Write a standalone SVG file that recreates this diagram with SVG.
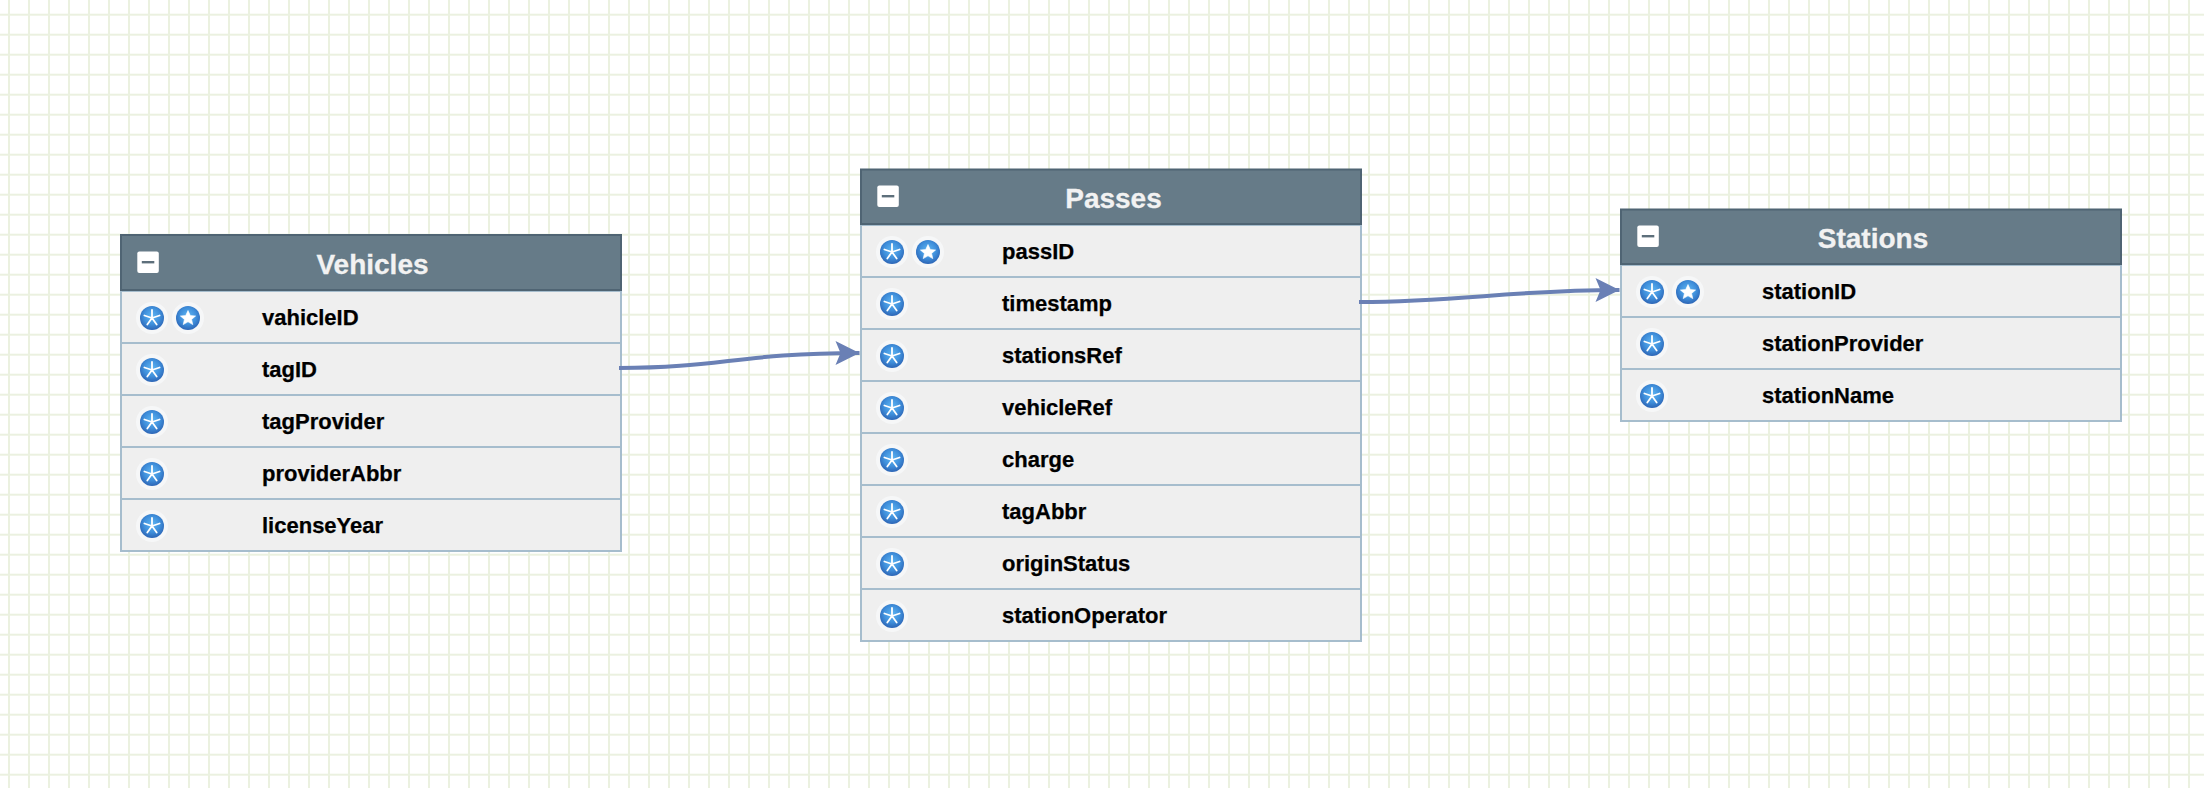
<svg xmlns="http://www.w3.org/2000/svg" xmlns:xlink="http://www.w3.org/1999/xlink" width="2204" height="788" viewBox="0 0 2204 788">
<style>
.hd{fill:#667b88;stroke:#4f6473;stroke-width:2}
.row{fill:#efefef;stroke:#a6bdcd;stroke-width:2}
.title{font:bold 28px "Liberation Sans",Arial,sans-serif;fill:#f2f2f2;stroke:#f2f2f2;stroke-width:.3;text-anchor:middle}
.lbl{font:bold 22px "Liberation Sans",Arial,sans-serif;fill:#000;stroke:#000;stroke-width:.25}
.conn{fill:none;stroke:#6a80b5;stroke-width:4}
</style>
<defs>
<pattern id="grid" width="20" height="20" patternUnits="userSpaceOnUse" x="-1" y="4.7">
<rect width="20" height="20" fill="#fff"/>
<path d="M10 0V20M0 10H20" stroke="#ebf1e0" stroke-width="2" fill="none"/>
</pattern>
<radialGradient id="blue" cx=".5" cy=".42" r=".62">
<stop offset="0" stop-color="#5fb6f2"/><stop offset=".55" stop-color="#3f8fdb"/><stop offset="1" stop-color="#2a5fb0"/>
</radialGradient>
<g id="ast">
<circle r="16" fill="#f6f7f8"/><circle r="12" fill="url(#blue)"/>
<path d="M0 0V-8M0 0L7.6-2.5M0 0L-7.6-2.5M0 0L4.7 6.5M0 0L-4.7 6.5" stroke="#fff" stroke-width="1.8" stroke-linecap="round" fill="none"/>
</g>
<g id="star">
<circle r="16" fill="#f6f7f8"/><circle r="12" fill="url(#blue)"/>
<polygon points="0,-7.5 2.3,-2.4 7.6,-2 3.6,1.4 4.8,6.6 0,3.8 -4.8,6.6 -3.6,1.4 -7.6,-2 -2.3,-2.4" fill="#fff" stroke="#fff" stroke-width=".6" stroke-linejoin="round"/>
</g>
<g id="minus"><rect width="21.5" height="21.5" rx="2" fill="#fff"/><rect x="4.5" y="9.5" width="12.5" height="2.4" fill="#5d6f7b"/></g>
<marker id="arr" markerUnits="userSpaceOnUse" markerWidth="26" markerHeight="28" refX="25" refY="13" orient="auto">
<polygon points="1,1 25,13 1,25 6,13" fill="#6a80b5"/>
</marker>
</defs>
<rect width="2204" height="788" fill="url(#grid)"/>
<g id="vehicles">
<rect class="row" x="121" y="291" width="500" height="52"/>
<rect class="row" x="121" y="343" width="500" height="52"/>
<rect class="row" x="121" y="395" width="500" height="52"/>
<rect class="row" x="121" y="447" width="500" height="52"/>
<rect class="row" x="121" y="499" width="500" height="52"/>
<rect class="hd" x="121" y="235" width="500" height="55"/>
<use xlink:href="#minus" x="137.3" y="251.5"/>
<text class="title" x="372.5" y="274">Vehicles</text>
<use xlink:href="#ast" x="152" y="318"/><use xlink:href="#star" x="188" y="318"/>
<use xlink:href="#ast" x="152" y="370"/><use xlink:href="#ast" x="152" y="422"/><use xlink:href="#ast" x="152" y="474"/><use xlink:href="#ast" x="152" y="526"/>
<text class="lbl" x="262" y="325">vahicleID</text>
<text class="lbl" x="262" y="377">tagID</text>
<text class="lbl" x="262" y="429">tagProvider</text>
<text class="lbl" x="262" y="481">providerAbbr</text>
<text class="lbl" x="262" y="533">licenseYear</text>
</g>
<g id="passes">
<rect class="row" x="861" y="225" width="500" height="52"/>
<rect class="row" x="861" y="277" width="500" height="52"/>
<rect class="row" x="861" y="329" width="500" height="52"/>
<rect class="row" x="861" y="381" width="500" height="52"/>
<rect class="row" x="861" y="433" width="500" height="52"/>
<rect class="row" x="861" y="485" width="500" height="52"/>
<rect class="row" x="861" y="537" width="500" height="52"/>
<rect class="row" x="861" y="589" width="500" height="52"/>
<rect class="hd" x="861" y="169.5" width="500" height="54.5"/>
<use xlink:href="#minus" x="877.3" y="185.5"/>
<text class="title" x="1113.5" y="208">Passes</text>
<use xlink:href="#ast" x="892" y="252"/><use xlink:href="#star" x="928" y="252"/>
<use xlink:href="#ast" x="892" y="304"/><use xlink:href="#ast" x="892" y="356"/><use xlink:href="#ast" x="892" y="408"/><use xlink:href="#ast" x="892" y="460"/><use xlink:href="#ast" x="892" y="512"/><use xlink:href="#ast" x="892" y="564"/><use xlink:href="#ast" x="892" y="616"/>
<text class="lbl" x="1002" y="259">passID</text>
<text class="lbl" x="1002" y="311">timestamp</text>
<text class="lbl" x="1002" y="363">stationsRef</text>
<text class="lbl" x="1002" y="415">vehicleRef</text>
<text class="lbl" x="1002" y="467">charge</text>
<text class="lbl" x="1002" y="519">tagAbbr</text>
<text class="lbl" x="1002" y="571">originStatus</text>
<text class="lbl" x="1002" y="623">stationOperator</text>
</g>
<g id="stations">
<rect class="row" x="1621" y="265" width="500" height="52"/>
<rect class="row" x="1621" y="317" width="500" height="52"/>
<rect class="row" x="1621" y="369" width="500" height="52"/>
<rect class="hd" x="1621" y="209.5" width="500" height="54.5"/>
<use xlink:href="#minus" x="1637.3" y="225.5"/>
<text class="title" x="1873" y="248">Stations</text>
<use xlink:href="#ast" x="1652" y="292"/><use xlink:href="#star" x="1688" y="292"/>
<use xlink:href="#ast" x="1652" y="344"/><use xlink:href="#ast" x="1652" y="396"/>
<text class="lbl" x="1762" y="299">stationID</text>
<text class="lbl" x="1762" y="351">stationProvider</text>
<text class="lbl" x="1762" y="403">stationName</text>
</g>
<g id="connectors">
<path class="conn" marker-end="url(#arr)" d="M619 368C720 368 740 353 859.5 353"/>
<path class="conn" marker-end="url(#arr)" d="M1359 302C1460 302 1510 290 1619.5 290"/>
</g>
</svg>
